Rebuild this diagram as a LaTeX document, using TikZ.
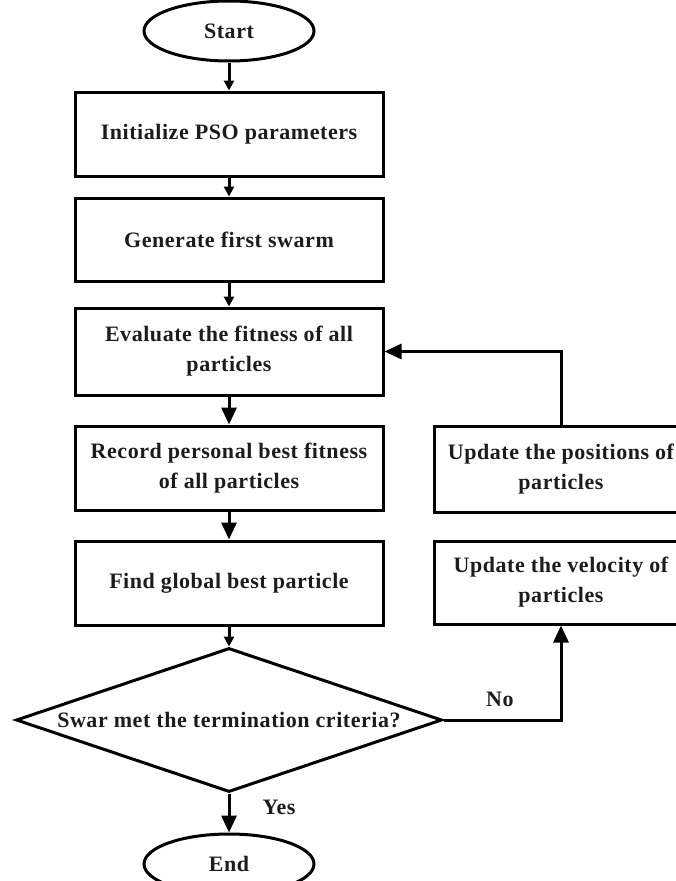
\documentclass[tikz,border=0pt]{standalone}
\usepackage{fontspec}
\setmainfont{Liberation Serif}[LetterSpace=2.5]
\usetikzlibrary{shapes.geometric,arrows.meta}
\definecolor{txt}{HTML}{1C1C1C}
\tikzset{
  base/.style={draw=black, line width=3pt, text=txt, font=\fontsize{22}{30}\selectfont\bfseries, align=center, inner sep=0pt},
  box/.style={base, rectangle, minimum width=308pt, minimum height=84pt},
  sidebox/.style={base, rectangle, minimum width=254pt, minimum height=85pt},
  term/.style={base, ellipse, minimum width=170pt, minimum height=60pt},
  decision/.style={base, diamond, aspect=2.96, minimum width=426pt, minimum height=144pt},
  conn/.style={line width=3pt, draw=black},
  smallarrow/.style={conn, -{Triangle[length=10pt,width=10pt]}},
  bigarrow/.style={conn, -{Triangle[length=17pt,width=15pt]}},
  lbl/.style={text=txt, font=\fontsize{22}{30}\selectfont\bfseries, inner sep=0pt}
}
\begin{document}
\begin{tikzpicture}[x=1pt, y=-1pt]
  \useasboundingbox (0,0) rectangle (676,881);
  \clip (0,0) rectangle (676,881);
  \node[term] (start) at (229,31) {Start};
  \node[box] (b1) at (229,134) {Initialize PSO parameters};
  \node[box, minimum height=83pt] (b2) at (229,239.5) {Generate first swarm};
  \node[box, minimum height=87pt] (b3) at (229,351.5) {Evaluate the fitness of all\\particles};
  \node[box] (b4) at (229,468) {Record personal best fitness\\of all particles};
  \node[box] (b5) at (229,583) {Find global best particle};
  \node[decision] (dia) at (229,720) {Swar met the termination criteria?};
  \node[term] (end) at (229,864) {End};
  \node[sidebox, minimum height=86pt] (pos) at (561,469) {Update the positions of\\particles};
  \node[sidebox, minimum height=83pt] (vel) at (561,582.5) {Update the velocity of\\particles};

  \draw[smallarrow] (start) -- (b1);
  \draw[smallarrow] (b1) -- (b2);
  \draw[smallarrow] (b2) -- (b3);
  \draw[bigarrow] (b3) -- (b4);
  \draw[bigarrow] (b4) -- (b5);
  \draw[smallarrow] (b5) -- (dia);
  \draw[bigarrow] (dia) -- (end) node[lbl, pos=0.35, right=32pt] (yes) {Yes};
  \draw[bigarrow] (dia.east) -| (vel.south) node[lbl, pos=0.24, above=12pt] (no) {No};
  \draw[bigarrow] (pos.north) |- (b3.east);
\end{tikzpicture}
\end{document}
